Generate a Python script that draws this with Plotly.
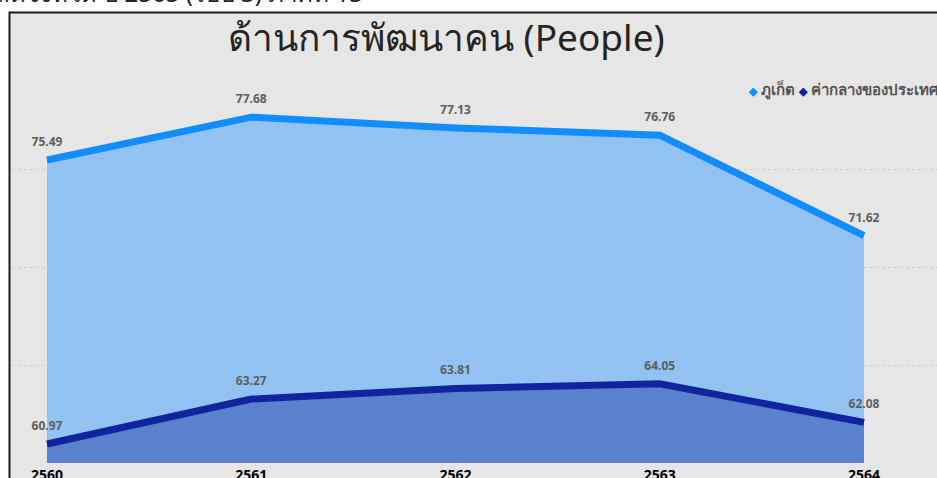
import plotly.graph_objects as go

years = [2560, 2561, 2562, 2563, 2564]
year_labels = ["2560", "2561", "2562", "2563", "2564"]
phuket = [75.49, 77.68, 77.13, 76.76, 71.62]
national = [60.97, 63.27, 63.81, 64.05, 62.08]
series_names = ["ภูเก็ต", "ค่ากลางของประเทศ"]
title_text = "ด้านการพัฒนาคน (People)"
header_text = "ข้อมูลสถิติจังหวัด ปี 2565 (รอบ 3) ภาคที่ 13"

W, H = 937, 478
L, R, T, B = 12, 0, 100, 15
PW, PH = W - L - R, H - T - B

def px(x):
    return (x - L) / PW

def py(y):
    return (H - B - y) / PH

c_ph_line, c_ph_fill = "#118DFF", "#92C2F1"
c_na_line, c_na_fill = "#12239E", "#5B80CD"
lab_family = "Open Sans, Noto Sans, sans-serif"

def area_trace(vals, name, lc, fc):
    return go.Scatter(
        x=years, y=vals, name=name, mode="lines+markers+text",
        line=dict(color=lc, width=7),
        marker=dict(size=16, color="rgba(0,0,0,0)"),
        fill="tozeroy", fillcolor=fc,
        text=[f"{v:.2f}" for v in vals], textposition="top center",
        textfont=dict(family=lab_family, size=12, color="#605E5C", weight="bold"),
        showlegend=False, cliponaxis=False, hoverinfo="x+y+name",
    )

fig = go.Figure()
fig.add_trace(area_trace(phuket, series_names[0], c_ph_line, c_ph_fill))
fig.add_trace(area_trace(national, series_names[1], c_na_line, c_na_fill))

x0 = years[0] - 35 / 204.25
x1 = years[0] + (W - 47) / 204.25

fig.update_layout(
    template="none",
    width=W, height=H,
    margin=dict(l=L, r=R, t=T, b=B, autoexpand=False),
    paper_bgcolor="white",
    plot_bgcolor="rgba(0,0,0,0)",
    showlegend=False,
    xaxis=dict(
        range=[x0, x1], tickvals=years, ticktext=year_labels,
        showgrid=False, zeroline=False, showline=False, ticks="",
        ticklabelstandoff=2,
        tickfont=dict(family="Open Sans, sans-serif", size=14, color="#000000", weight="bold"),
        automargin=False, fixedrange=True,
    ),
    yaxis=dict(
        range=[60, 60 + PH / 19.56], tickvals=[60, 65, 70, 75],
        showticklabels=False, showgrid=True, gridcolor="#CFCFCF", gridwidth=1,
        griddash="dot", zeroline=False, showline=False, ticks="",
        automargin=False, fixedrange=True,
    ),
    shapes=[
        dict(type="rect", xref="paper", yref="paper",
             x0=px(9.5), x1=px(W + 5), y0=py(H + 5), y1=py(12.5),
             fillcolor="#E6E6E6", line=dict(color="#1A1A1A", width=2), layer="below"),
    ],
    annotations=[
        dict(text=title_text, xref="paper", yref="paper", x=px(446), y=py(37),
             xanchor="center", yanchor="middle", showarrow=False,
             font=dict(family="Noto Sans, Open Sans, sans-serif", size=37, color="#252423")),
        dict(text=header_text, xref="paper", yref="paper", x=px(365), y=py(-8),
             xanchor="right", yanchor="middle", showarrow=False,
             font=dict(family="Noto Sans, Open Sans, sans-serif", size=24, color="#222222")),
        dict(text=(f"<span style='color:{c_ph_line};font-size:11px'>◆</span> {series_names[0]} "
                   f"<span style='color:{c_na_line};font-size:11px'>◆</span> {series_names[1]}"),
             xref="paper", yref="paper", x=px(746), y=py(90),
             xanchor="left", yanchor="middle", showarrow=False,
             font=dict(family="Noto Sans, Open Sans, sans-serif", size=15, color="#555555", weight="bold")),
    ],
)

fig.write_html("out.html", config={"displayModeBar": False},
               post_script="document.body.style.margin='0px';")
